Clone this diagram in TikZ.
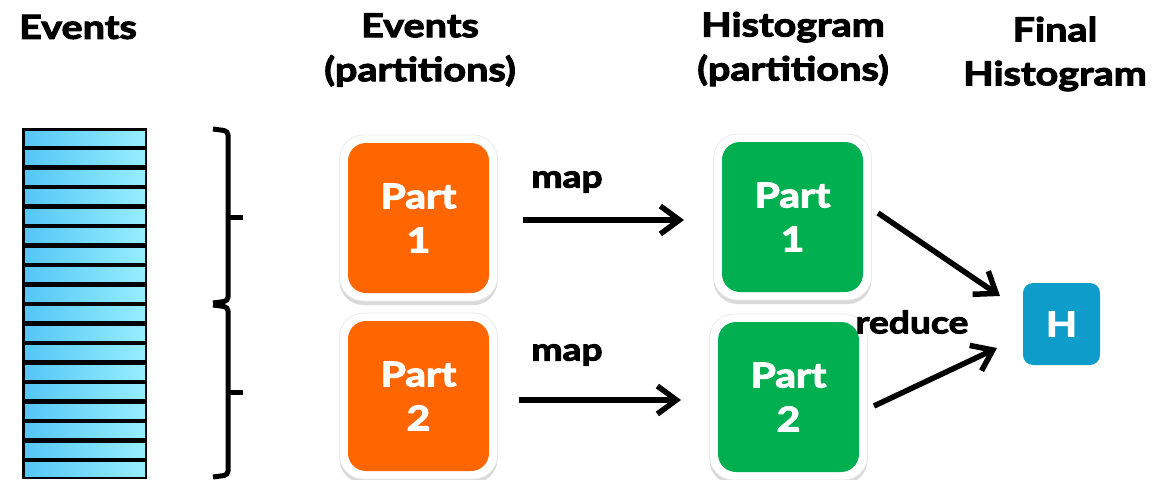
\documentclass[tikz,border=0pt]{standalone}
\usepackage{fontspec}
\setmainfont{Lato}[FakeStretch=1.2, BoldFeatures={FakeBold=3.2}]
\usetikzlibrary{arrows.meta,shadows}
\definecolor{partorange}{HTML}{FF6600}
\definecolor{partgreen}{HTML}{00AF50}
\definecolor{histblue}{HTML}{0E9DCB}
\definecolor{stripeL}{HTML}{56C6F6}
\definecolor{stripeR}{HTML}{96EEFF}
\begin{document}
\begin{tikzpicture}[x=1pt,y=-1pt,
  header/.style={font=\fontsize{33}{44}\selectfont\bfseries, align=center, inner sep=0pt},
  lbl/.style={font=\fontsize{31}{36}\selectfont\bfseries, inner sep=0pt},
  frame/.style={fill=white, draw=black!8, line width=0.8pt, rounded corners=24pt,
    minimum width=158pt, minimum height=166pt,
    drop shadow={opacity=0.3, shadow xshift=0pt, shadow yshift=-4pt}},
  partbox/.style={rounded corners=18pt, minimum width=141pt, minimum height=150pt,
    text=white, align=center, font=\fontsize{34}{44}\selectfont\bfseries},
  flow/.style={line width=5.5pt, -{Straight Barb[length=19pt,width=28pt,line width=5.5pt]}},
  brace/.style={line width=5pt, rounded corners=4pt}
]
\useasboundingbox (0,0) rectangle (1156,479);

% column headings
\node[header] (hEvents) at (78,27) {Events};
\node[header] (hParts) at (420,50) {Events\\(partitions)};
\node[header] (hHists) at (793,49) {Histogram\\(partitions)};
\node[header] (hFinal) at (1055,54) {Final\\Histogram};

% the event list: black column with blue gradient rows
\fill[black] (22,128) rectangle (147,479);
\foreach \i in {0,...,17}{
  \shade[left color=stripeL, right color=stripeR]
    (25,131+19.5*\i) rectangle (145,145+19.5*\i);
}

% braces splitting the events into two partitions
\draw[brace] (213,129) -- (228,131) -- (228,301) -- (213,303);
\draw[line width=5pt] (228,217) -- (243,217);
\draw[brace] (213,305) -- (228,307) -- (228,475) -- (213,477);
\draw[line width=5pt] (228,392) -- (243,392);

% event partitions
\node[frame] (f1) at (418.5,218) {};
\node[partbox, fill=partorange] (p1) at (418.5,218) {Part\\1};
\node[frame] (f2) at (418.5,396) {};
\node[partbox, fill=partorange] (p2) at (418.5,396) {Part\\2};

% histogram partitions
\node[frame] (g1f) at (792.5,217) {};
\node[partbox, fill=partgreen] (g1) at (792.5,217) {Part\\1};
\node[frame] (g2f) at (788.5,397) {};
\node[partbox, fill=partgreen] (g2) at (788.5,397) {Part\\2};

% final histogram
\node[fill=histblue, rounded corners=10pt, minimum width=77pt, minimum height=82pt,
  text=white, font=\fontsize{34}{40}\selectfont\bfseries] (H) at (1061.5,324) {H};

% map arrows
\coordinate (m1s) at (523,220);
\coordinate (m1e) at (684,220);
\draw[flow] (m1s) -- (m1e);
\node[lbl] (map1) at (567,182) {map};
\coordinate (m2s) at (519,400);
\coordinate (m2e) at (681,400);
\draw[flow] (m2s) -- (m2e);
\node[lbl] (map2) at (567,355) {map};

% reduce arrows
\coordinate (r1s) at (878,213);
\coordinate (r1e) at (1000,296);
\draw[flow] (r1s) -- (r1e);
\coordinate (r2s) at (874,406);
\coordinate (r2e) at (997,348);
\draw[flow] (r2s) -- (r2e);
\node[lbl] (red) at (912,322) {reduce};
\end{tikzpicture}
\end{document}
